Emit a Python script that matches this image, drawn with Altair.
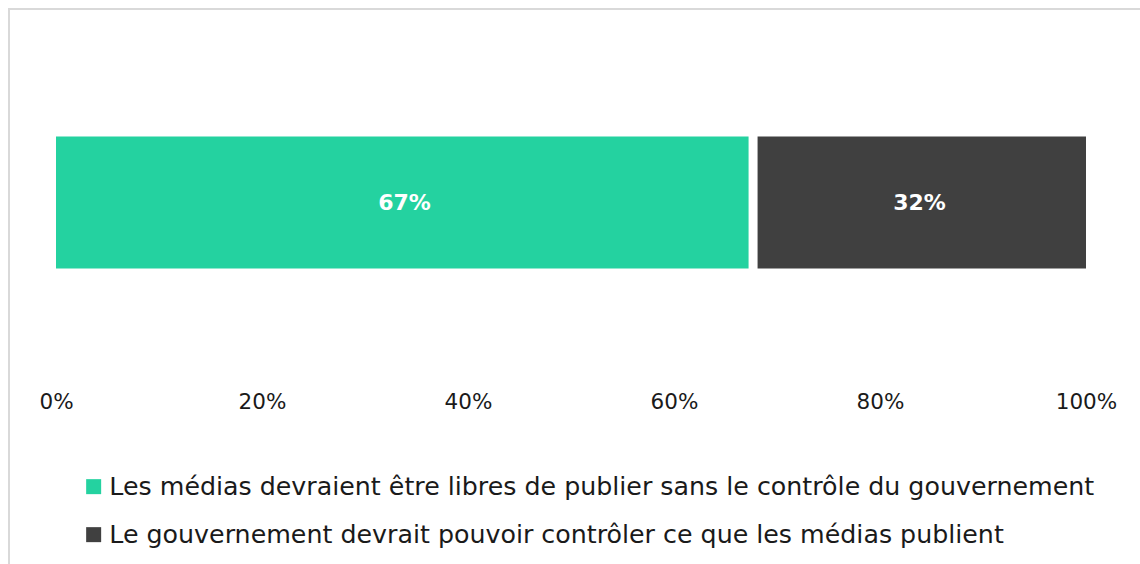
import altair as alt
import pandas as pd

categories = [
    "Les médias devraient être libres de publier sans le contrôle du gouvernement",
    "Le gouvernement devrait pouvoir contrôler ce que les médias publient",
]
values = [67, 32]
labels = ["67%", "32%"]
colors = ["#24D2A0", "#404040"]
tick_values = [0, 0.2, 0.4, 0.6, 0.8, 1.0]

FONT = "DejaVu Sans"

df = pd.DataFrame({
    "cat": categories,
    "value": values,
    "label": labels,
    "order": [0, 1],
    "row": ["q", "q"],
})

base = (
    alt.Chart(df)
    .transform_joinaggregate(total="sum(value)")
    .transform_calculate(frac="datum.value / datum.total")
    .transform_stack(stack="frac", groupby=["row"], as_=["x0", "x1"],
                     sort=[alt.SortField("order", order="ascending")])
    .transform_calculate(mid="(datum.x0 + datum.x1) / 2")
)

xscale = alt.Scale(domain=[0, 1], nice=False)
yenc = alt.Y("row:N", axis=None, scale=alt.Scale(paddingInner=0, paddingOuter=0.807))

bars = base.mark_bar().encode(
    x=alt.X("x0:Q", scale=xscale, title=None,
            axis=alt.Axis(format=".0%", values=tick_values, grid=False, ticks=False,
                          domain=False, labelFontSize=21.5, labelFont=FONT,
                          labelColor="#1a1a1a", labelPadding=16, labelFlush=False)),
    x2="x1:Q",
    y=yenc,
    color=alt.Color("cat:N", scale=alt.Scale(domain=categories, range=colors),
                    legend=alt.Legend(title=None, orient="none", legendX=25, legendY=444,
                                      symbolType="square", symbolSize=225,
                                      symbolStrokeWidth=0, labelFontSize=25.3,
                                      labelFont=FONT, labelColor="#1a1a1a",
                                      labelLimit=1200, rowPadding=22, labelOffset=3)),
)

sep = base.transform_filter("datum.order == 0").mark_rule(
    color="white", strokeWidth=9
).encode(
    x=alt.X("x1:Q", scale=xscale),
    y=alt.value(105), y2=alt.value(240),
)

text = base.mark_text(color="white", fontWeight="bold", fontSize=22, font=FONT).encode(
    x=alt.X("mid:Q", scale=xscale),
    y=yenc,
    text="label:N",
)

frame = alt.Chart(pd.DataFrame({"k": [0]})).mark_rect(
    fill=None, stroke="#d9d9d9", strokeWidth=2
).encode(
    x=alt.value(-47), x2=alt.value(1120), y=alt.value(-21), y2=alt.value(600)
)

chart = (
    alt.layer(frame, bars, sep, text)
    .properties(width=1030, height=345,
                background="white",
                autosize=alt.AutoSizeParams(type="none"),
                padding={"left": 56, "top": 30, "right": 54, "bottom": 189})
    .configure_view(strokeWidth=0, stroke=None)
)

chart.save("out.html", embed_options={"renderer": "svg", "actions": False})
